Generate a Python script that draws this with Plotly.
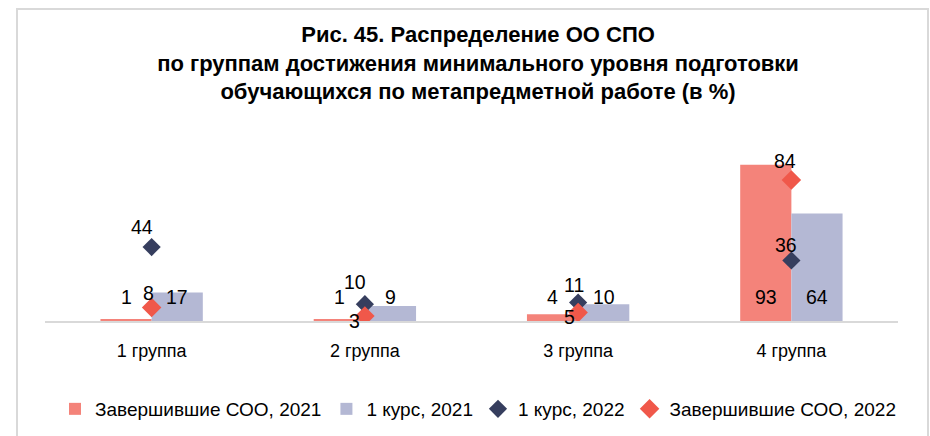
import plotly.graph_objects as go

# Data
groups = ["1 группа", "2 группа", "3 группа", "4 группа"]
finished_2021 = [1, 1, 4, 93]     # Завершившие СОО, 2021 (bars)
course1_2021 = [17, 9, 10, 64]    # 1 курс, 2021 (bars)
course1_2022 = [44, 10, 11, 36]   # 1 курс, 2022 (markers)
finished_2022 = [8, 3, 5, 84]     # Завершившие СОО, 2022 (markers)

title_lines = [
    "Рис. 45. Распределение ОО СПО",
    "по группам достижения минимального уровня подготовки",
    "обучающихся по метапредметной работе (в %)",
]

# Styling
W, H = 930, 436
ML, MR, MT, MB = 45, 32, 153, 115
PW, PH = W - ML - MR, H - MT - MB
FONT = "Liberation Sans, Arial, sans-serif"
C_FIN21 = "#F4837A"
C_C21 = "#B4B8D4"
C_C22 = "#363E5E"
C_FIN22 = "#F0584A"

fig = go.Figure()
fig.add_trace(go.Bar(x=groups, y=finished_2021, name="Завершившие СОО, 2021",
                     marker=dict(color=C_FIN21, line_width=0)))
fig.add_trace(go.Bar(x=groups, y=course1_2021, name="1 курс, 2021",
                     marker=dict(color=C_C21, line_width=0)))
fig.add_trace(go.Scatter(x=groups, y=course1_2022, name="1 курс, 2022", mode="markers",
                         marker=dict(symbol="diamond", size=14, color=C_C22)))
fig.add_trace(go.Scatter(x=groups, y=finished_2022, name="Завершившие СОО, 2022", mode="markers",
                         marker=dict(symbol="diamond", size=15, color=C_FIN22)))

annotations = []
label_font = dict(family=FONT, size=19.5, color="#000000")
bargap = 0.52
cat_px = PW / len(groups)
bar_px = cat_px * (1 - bargap) / 2

# Bar value labels sit at the base of each bar
for series, side in ((finished_2021, -1), (course1_2021, 1)):
    for g, v in zip(groups, series):
        annotations.append(dict(x=g, y=0, text=str(v), showarrow=False, font=label_font,
                                xshift=side * bar_px / 2, yshift=24, yanchor="middle"))

# Marker value labels
c22_shift = [(-10, 20), (-10, 22), (-4, 18), (-5, 16)]
f22_shift = [(-3, 15), (-10, -5), (-9, -4), (-6, 19)]
for series, shifts in ((course1_2022, c22_shift), (finished_2022, f22_shift)):
    for g, v, (dx, dy) in zip(groups, series, shifts):
        annotations.append(dict(x=g, y=v, text=str(v), showarrow=False, font=label_font,
                                xshift=dx, yshift=dy, yanchor="middle"))

# Outer frame of the chart
def px_x(px):
    return (px - ML) / PW

def px_y(py):
    return (H - MB - py) / PH

shapes = [dict(type="rect", xref="paper", yref="paper",
               x0=px_x(17), x1=px_x(928), y0=px_y(445), y1=px_y(9),
               line=dict(color="#D9D9D9", width=2), fillcolor="rgba(0,0,0,0)", layer="below")]

fig.update_layout(
    width=W, height=H,
    margin=dict(l=ML, r=MR, t=MT, b=MB),
    paper_bgcolor="white", plot_bgcolor="white",
    barmode="group", bargap=bargap, bargroupgap=0,
    title=dict(text="<br>".join(title_lines), x=0.514, xanchor="center",
               yref="container", y=1 - 42 / H, yanchor="top",
               font=dict(family=FONT, size=22, color="#000000", weight="bold")),
    font=dict(family=FONT, size=18, color="#000000"),
    xaxis=dict(showline=True, linecolor="#D9D9D9", linewidth=2, ticks="",
               showgrid=False, tickfont=dict(size=18, color="#000000"),
               ticklabelstandoff=12),
    yaxis=dict(range=[0, 100], visible=False, showgrid=False, zeroline=False),
    legend=dict(orientation="h", xref="container", yref="container",
                x=0.514, xanchor="center", y=1 - 409 / H, yanchor="middle",
                font=dict(size=19), itemwidth=30, tracegroupgap=0),
    annotations=annotations,
    shapes=shapes,
    showlegend=True,
)

fig.write_html("out.html")
